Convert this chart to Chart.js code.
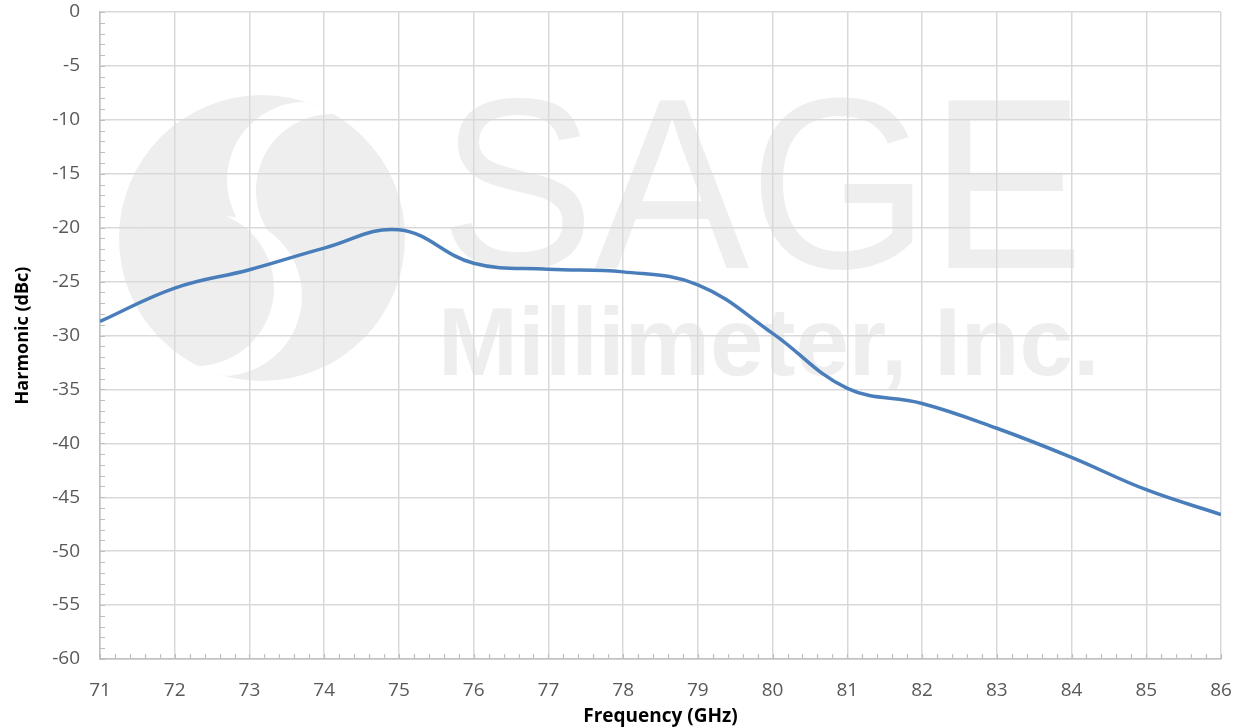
<!DOCTYPE html>
<html>
<head>
<meta charset="utf-8">
<script src="https://cdn.jsdelivr.net/npm/chart.js@4.4.1/dist/chart.umd.min.js"></script>
<style>
  html, body { margin: 0; padding: 0; background: #fff; }
  #wrap { width: 1241px; height: 728px; }
</style>
</head>
<body>
<div id="wrap"><canvas id="harmonicChart"></canvas></div>
<script>
const frequency = [71, 72, 73, 74, 75, 76, 77, 78, 79, 80, 81, 82, 83, 84, 85, 86];
const harmonic = [-28.7, -25.6, -23.9, -21.9, -20.2, -23.3, -23.85, -24.1, -25.3, -29.8, -34.9, -36.3, -38.6, -41.3, -44.3, -46.6];
const xTicks = { min: 71, max: 86, step: 1 };
const yTicks = { min: -60, max: 0, step: 5 };

const gridColor = '#d9d9d9';
const textColor = '#595959';

// watermark behind the grid
const watermark = {
    id: 'watermark',
    beforeDraw(chart) {
        const ctx = chart.ctx;
        const gray = '#eeeeee';
        ctx.save();

        // round logo
        ctx.beginPath();
        ctx.arc(262, 238, 143, 0, Math.PI * 2);
        ctx.fillStyle = gray;
        ctx.fill();
        ctx.clip();
        ctx.fillStyle = '#fff';
        ctx.beginPath(); ctx.arc(305, 180, 78, 0, Math.PI * 2); ctx.fill();
        ctx.fillStyle = gray;
        ctx.beginPath(); ctx.arc(332, 190, 76, 0, Math.PI * 2); ctx.fill();
        ctx.fillStyle = '#fff';
        ctx.beginPath(); ctx.arc(222, 296, 80, 0, Math.PI * 2); ctx.fill();
        ctx.fillStyle = gray;
        ctx.beginPath(); ctx.arc(196, 288, 78, 0, Math.PI * 2); ctx.fill();
        ctx.restore();

        ctx.save();
        ctx.fillStyle = gray;
        ctx.textBaseline = 'alphabetic';
        ctx.translate(440, 268);
        ctx.scale(0.95, 1);
        ctx.font = '244px "Liberation Sans"';
        ctx.fillText('SAGE', 0, 0);
        ctx.restore();

        ctx.save();
        ctx.fillStyle = gray;
        ctx.font = 'bold 96px "Liberation Sans"';
        ctx.fillText('Millimeter, Inc.', 438, 375);
        ctx.restore();
    }
};

// small minor tick marks inside the plot, like the spreadsheet chart
const minorTicks = {
    id: 'minorTicks',
    afterDraw(chart) {
        const ctx = chart.ctx;
        const x = chart.scales.x;
        const y = chart.scales.y;
        const area = chart.chartArea;
        ctx.save();
        ctx.strokeStyle = '#bfbfbf';
        ctx.lineWidth = 1.2;
        ctx.beginPath();
        for (let v = xTicks.min; v <= xTicks.max + 1e-6; v += 0.2) {
            const px = Math.round(x.getPixelForValue(v)) + 0.5;
            ctx.moveTo(px, area.bottom);
            ctx.lineTo(px, area.bottom - 5);
        }
        for (let v = yTicks.min; v <= yTicks.max + 1e-6; v += 1) {
            const py = Math.round(y.getPixelForValue(v)) + 0.5;
            ctx.moveTo(area.left, py);
            ctx.lineTo(area.left + 5, py);
        }
        ctx.stroke();
        ctx.restore();
    }
};

new Chart(document.getElementById('harmonicChart'), {
    type: 'line',
    data: {
        datasets: [{
            label: 'Harmonic',
            data: frequency.map((f, i) => ({ x: f, y: harmonic[i] })),
            borderColor: '#4a7ebb',
            borderWidth: 3.5,
            pointRadius: 0,
            fill: false,
            tension: 0.4
        }]
    },
    options: {
        responsive: true,
        maintainAspectRatio: false,
        animation: false,
        layout: { padding: { left: 0, right: 20, top: 12, bottom: 0 } },
        plugins: {
            legend: { display: false },
            tooltip: { enabled: false }
        },
        scales: {
            x: {
                type: 'linear',
                min: xTicks.min,
                max: xTicks.max,
                ticks: {
                    stepSize: xTicks.step,
                    color: textColor,
                    font: { family: 'Open Sans', size: 19 },
                    padding: 20
                },
                grid: { color: gridColor, lineWidth: 1.5, drawTicks: false },
                border: { color: '#bfbfbf', width: 1.5 },
                title: {
                    display: true,
                    text: 'Frequency (GHz)',
                    color: '#000',
                    font: { family: 'Open Sans', size: 19, weight: 'bold' },
                    padding: { top: 0, bottom: 0 }
                },
                afterFit(scale) {
                    scale.height = 69;
                    scale.paddingLeft = 0;
                    scale.paddingRight = 0;
                }
            },
            y: {
                min: yTicks.min,
                max: yTicks.max,
                ticks: {
                    stepSize: yTicks.step,
                    color: textColor,
                    font: { family: 'Open Sans', size: 19 },
                    padding: 20
                },
                grid: { color: gridColor, lineWidth: 1.5, drawTicks: false },
                border: { color: '#bfbfbf', width: 1.5 },
                title: {
                    display: true,
                    text: 'Harmonic (dBc)',
                    color: '#000',
                    font: { family: 'Open Sans', size: 18, weight: 'bold' },
                    padding: { top: 12, bottom: 0 }
                },
                afterFit(scale) {
                    scale.width = 100;
                    scale.paddingTop = 0;
                    scale.paddingBottom = 0;
                }
            }
        }
    },
    plugins: [watermark, minorTicks]
});
</script>
</body>
</html>
